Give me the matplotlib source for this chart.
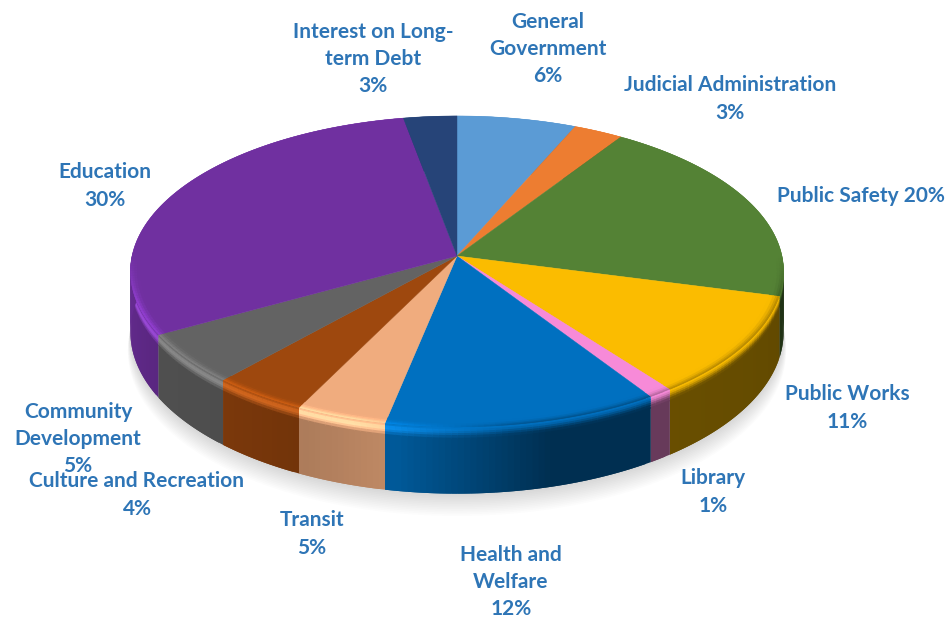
import numpy as np
import matplotlib
matplotlib.use("Agg")
import matplotlib.pyplot as plt
from matplotlib.collections import PolyCollection
from matplotlib.colors import to_rgb

# slice sizes, labels keep the rounded text
categories = ["General\nGovernment", "Judicial Administration", "Public Safety", "Public Works",
              "Library", "Health and\nWelfare", "Transit", "Culture and Recreation",
              "Community\nDevelopment", "Education", "Interest on Long-\nterm Debt"]
shares = [6.5, 2.7, 19.9, 10.6, 1.1, 12.4, 4.1, 4.3, 5.3, 30.2, 2.9]
label_pct = [6, 3, 20, 11, 1, 12, 5, 4, 5, 30, 3]
colors = ["#5B9BD5", "#ED7D31", "#548235", "#FBBC00", "#F78AD8", "#0070C0",
          "#F0AC7E", "#9E480E", "#636363", "#7030A0", "#264478"]

# label centres in pixels
label_pos = [(548, 49), (730, 99), (861, 196), (847, 408), (713, 492), (511, 582),
             (312, 534), (137, 495), (78, 439), (105, 186), (373, 59)]

CX, CY = 457, 256
SX, SY = 325, 154
K = 0.0996      # perspective
T = 60          # thickness
TEXT = "#2E75B6"


def project(theta, r=1.0, depth=0.0):
    # theta clockwise from top, degrees
    a = np.radians(theta)
    x = r * np.sin(a)
    y = r * np.cos(a)
    w = 1 + K * y
    return CX + SX * x / w, CY - SY * y / w + depth * T / w


def side_shade(theta):
    return np.interp(theta, [0, 90, 146, 165, 190, 205, 222, 240, 270, 360],
                     [.5, .38, .42, .42, .8, .72, .78, .8, .9, .7])


def glow(theta):
    # 0 on the dark right side, 1 on the lit left side
    return np.clip((theta - 172) / 25, 0, 1)


fig = plt.figure(figsize=(9.48, 6.19), dpi=100)
ax = fig.add_axes([0, 0, 1, 1])
ax.set_xlim(0, 948)
ax.set_ylim(619, 0)
ax.axis("off")

edges = np.concatenate([[0], np.cumsum(shares)]) * 3.6

# soft shadow under the pie
tt = np.linspace(0, 360, 361)
for i in range(14):
    sx_, sy_ = project(tt, r=1 + .0006 * i, depth=1 + i * .024)
    ax.fill(sx_, sy_, color="black", alpha=0.012, lw=0, zorder=1)

# side wall, bands overlap only the next band so no seams show
for n in range(len(shares)):
    c = to_rgb(colors[n])
    ang = np.arange(edges[n], edges[n + 1] + .01, 1.0)
    if ang[-1] < edges[n + 1]:
        ang = np.append(ang, edges[n + 1])
    polys, cols = [], []
    levels = [0, .03, .06, .09, .12, .16, 1]
    for a0, a1 in zip(ang[:-1], ang[1:]):
        a2 = min(a1 + 1, edges[n + 1])
        mid = (a0 + a1) / 2
        shade = side_shade(mid)
        lit = glow(mid)
        for d0, d1 in zip(levels[:-1], levels[1:]):
            u = min((d0 + .015) / .16, 1)
            if d1 == 1:
                u = 1
            mix = u * u * (3 - 2 * u)
            col = np.array(c) * (1 + (shade - 1) * mix)
            col = col * (1 + .38 * lit * np.sin(np.pi * u)) + .05 * lit * np.sin(np.pi * u)
            d2 = min(d1 + .02, 1)
            x0, y0 = project(a0, depth=d0)
            x1, y1 = project(a2, depth=d0)
            x2, y2 = project(a2, depth=d2)
            x3, y3 = project(a0, depth=d2)
            polys.append([(x0, y0), (x1, y1), (x2, y2), (x3, y3)])
            cols.append(tuple(np.clip(col, 0, 1)))
    ax.add_collection(PolyCollection(polys, facecolors=cols, edgecolors="none",
                                     zorder=2 - np.cos(np.radians((edges[n] + edges[n + 1]) / 2)) * .5))

# top face with a narrow bevel along the front rim
for n in range(len(shares)):
    c = to_rgb(colors[n])
    ang = np.linspace(edges[n], edges[n + 1], max(int(shares[n] * 4), 3))
    px, py = project(ang)
    ax.fill(np.r_[CX, px], np.r_[CY, py], color=colors[n], lw=.3, zorder=3)

    polys, cols = [], []
    rings = [.97, .98, .988, .994, 1.0]
    for a0, a1 in zip(ang[:-1], ang[1:]):
        mid = (a0 + a1) / 2
        front = np.clip(-np.cos(np.radians(mid)) / .3, 0, 1)
        if front <= 0:
            continue
        shade = side_shade(mid)
        lit = glow(mid)
        a2 = min(a1 + (a1 - a0), edges[n + 1])
        for r0, r1 in zip(rings[:-1], rings[1:]):
            u = (r0 + .005 - .97) / .03
            col = np.array(c)
            col = col * (1 + .3 * lit * u * u * front)
            col = col * (1 - (1 - shade) * .45 * u * u * front * (1 - lit))
            r2 = min(r1 + .004, 1)
            x0, y0 = project(a0, r=r0)
            x1, y1 = project(a2, r=r0)
            x2, y2 = project(a2, r=r2)
            x3, y3 = project(a0, r=r2)
            polys.append([(x0, y0), (x1, y1), (x2, y2), (x3, y3)])
            cols.append(tuple(np.clip(col, 0, 1)))
    if polys:
        ax.add_collection(PolyCollection(polys, facecolors=cols, edgecolors="none", zorder=4))

for name, pct, (lx, ly) in zip(categories, label_pct, label_pos):
    if name == "Public Safety":
        txt = f"{name} {pct}%"
    else:
        txt = f"{name}\n{pct}%"
    ax.text(lx, ly, txt, ha="center", va="center", color=TEXT, fontsize=15, fontweight="bold",
            family="Lato", linespacing=1.45, zorder=6)

fig.savefig("out.png", dpi=100)
